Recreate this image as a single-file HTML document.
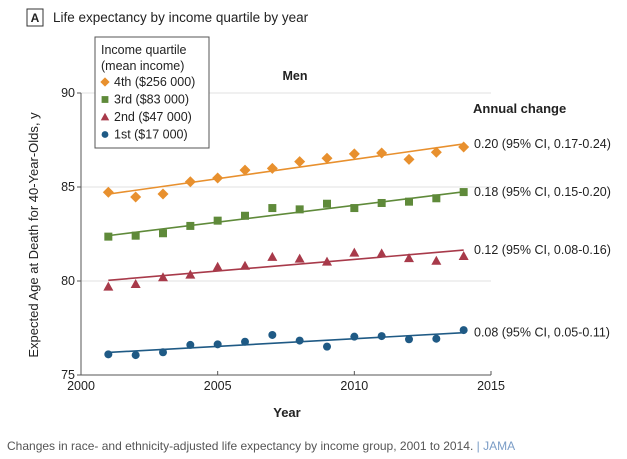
<!DOCTYPE html>
<html><head><meta charset="utf-8"><style>
body{margin:0;background:#fff;width:627px;height:459px;overflow:hidden;font-family:"Liberation Sans",sans-serif}
svg{display:block}
</style></head><body>
<svg id="chart" width="627" height="459" viewBox="0 0 627 459" font-family="Liberation Sans, sans-serif">
<rect x="27" y="9" width="16" height="17" fill="none" stroke="#333" stroke-width="1"/>
<text x="35" y="22" font-size="12" font-weight="bold" text-anchor="middle" fill="#222">A</text>
<text x="53" y="22" font-size="13.5" fill="#222">Life expectancy by income quartile by year</text>
<g id="grid"></g>
<g id="axes"></g>
<g id="series"></g>
<text x="295" y="80" font-size="12.5" font-weight="bold" text-anchor="middle" fill="#222">Men</text>
<text x="473" y="113" font-size="13" font-weight="bold" fill="#222">Annual change</text>
<text x="287" y="417" font-size="13" font-weight="bold" text-anchor="middle" fill="#222">Year</text>
<text transform="translate(38,235) rotate(-90)" font-size="13" text-anchor="middle" fill="#222">Expected Age at Death for 40-Year-Olds, y</text>
<g>
<rect x="95" y="37" width="114" height="111" fill="#fff" stroke="#555" stroke-width="1"/>
<text x="101" y="54" font-size="12.5" fill="#222">Income quartile</text>
<text x="101" y="70" font-size="12.5" fill="#222">(mean income)</text>
<g id="legendItems"></g>
</g>
<text x="7" y="450" font-size="12" fill="#555">Changes in race- and ethnicity-adjusted life expectancy by income group, 2001 to 2014.  <tspan fill="#7a9cc6">|  JAMA</tspan></text>
</svg>
<script>
const years = [2001,2002,2003,2004,2005,2006,2007,2008,2009,2010,2011,2012,2013,2014];
const q4 = [84.72,84.47,84.63,85.28,85.48,85.90,85.99,86.35,86.53,86.76,86.81,86.47,86.85,87.13];
const q3 = [82.36,82.41,82.54,82.93,83.21,83.47,83.88,83.81,84.11,83.88,84.15,84.22,84.40,84.73];
const q2 = [79.70,79.84,80.20,80.34,80.76,80.81,81.28,81.19,81.03,81.51,81.47,81.22,81.08,81.33];
const q1 = [76.10,76.06,76.21,76.60,76.63,76.77,77.13,76.83,76.51,77.04,77.07,76.90,76.93,77.39];
const xTicks = [2000,2005,2010,2015];
const yTicks = [75,80,85,90];
const seriesNames = ["4th ($256 000)","3rd ($83 000)","2nd ($47 000)","1st ($17 000)"];
const changeLabels = ["0.20 (95% CI, 0.17-0.24)","0.18 (95% CI, 0.15-0.20)","0.12 (95% CI, 0.08-0.16)","0.08 (95% CI, 0.05-0.11)"];
const NS="http://www.w3.org/2000/svg";
const X0=81,X1=491,Y0=375,Y1=93;
const xs=v=>X0+(v-2000)/15*(X1-X0);
const ys=v=>Y0-(v-75)/15*(Y0-Y1);
function mk(tag,attrs,parent){const e=document.createElementNS(NS,tag);for(const k in attrs)e.setAttribute(k,attrs[k]);parent.appendChild(e);return e;}
const grid=document.getElementById('grid'),axes=document.getElementById('axes'),ser=document.getElementById('series'),leg=document.getElementById('legendItems');
yTicks.forEach(t=>{
  if(t>75){const g=mk('line',{x1:X0,x2:X1,y1:ys(t),y2:ys(t),stroke:'#e2e2e2','stroke-width':1},grid);
  
  }
  const tk=mk('line',{x1:X0-4,x2:X0,y1:ys(t),y2:ys(t),stroke:'#555'},axes);
  
  
  const l=mk('text',{x:X0-6,y:ys(t)+4,'font-size':12.5,'text-anchor':'end',fill:'#222'},axes);l.textContent=t;
  
  
});
const ya=mk('line',{x1:X0,x2:X0,y1:Y1,y2:Y0,stroke:'#555'},axes);


const xa=mk('line',{x1:X0,x2:X1,y1:Y0,y2:Y0,stroke:'#555'},axes);


xTicks.forEach(t=>{
  const tk=mk('line',{x1:xs(t),x2:xs(t),y1:Y0-4,y2:Y0,stroke:'#555'},axes);
  
  
  const l=mk('text',{x:xs(t),y:Y0+15,'font-size':12.5,'text-anchor':'middle',fill:'#222'},axes);l.textContent=t;
  
  
});
const colors=['#e8902e','#5f8a3a','#a83a4a','#1f5a85'];
const shapes=['diamond','square','triangle','circle'];
const data=[q4,q3,q2,q1];
function marker(shape,cx,cy,c,p,s){
  s=s||1;let e;
  if(shape==='diamond')e=mk('polygon',{points:`${cx},${cy-5.5*s} ${cx+5.5*s},${cy} ${cx},${cy+5.5*s} ${cx-5.5*s},${cy}`,fill:c},p);
  else if(shape==='square')e=mk('rect',{x:cx-4*s,y:cy-4*s,width:8*s,height:8*s,fill:c},p);
  else if(shape==='triangle')e=mk('polygon',{points:`${cx},${cy-5*s} ${cx+5*s},${cy+4*s} ${cx-5*s},${cy+4*s}`,fill:c},p);
  else e=mk('circle',{cx:cx,cy:cy,r:4*s,fill:c},p);
  return e;
}
data.forEach((arr,i)=>{
  const n=years.length;let mx=0,my=0;years.forEach((y,j)=>{mx+=y;my+=arr[j];});mx/=n;my/=n;
  let sxy=0,sxx=0;years.forEach((y,j)=>{sxy+=(y-mx)*(arr[j]-my);sxx+=(y-mx)*(y-mx);});
  const b=sxy/sxx,a=my-b*mx;
  const fx0=years[0],fx1=years[n-1];
  const ln=mk('line',{x1:xs(fx0),y1:ys(a+b*fx0),x2:xs(fx1),y2:ys(a+b*fx1),stroke:colors[i],'stroke-width':1.6},ser);
  
  
  arr.forEach((v,j)=>{
    const m=marker(shapes[i],xs(years[j]),ys(v),colors[i],ser);
    
    
  });
  const lab=mk('text',{x:474,y:ys(a+b*fx1)+4,'font-size':12.5,fill:'#222'},ser);lab.textContent=changeLabels[i];
  
  
  const ly=86+i*17.5;
  const lm=marker(shapes[i],105,ly-4,colors[i],leg,0.85);
  
  
  const lt=mk('text',{x:114,y:ly,'font-size':12.5,fill:'#222'},leg);lt.textContent=seriesNames[i];
  
  
});
</script>
</body></html>
